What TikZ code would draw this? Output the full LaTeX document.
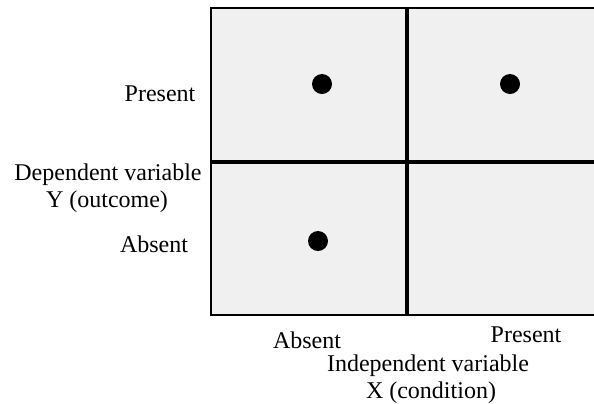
\documentclass[tikz,border=0pt]{standalone}
\usepackage{fontspec}
\setmainfont{Liberation Serif}
\tikzset{
	cell/.style = {fill = black!6},
	dot/.style = {circle, fill = black, inner sep = 0pt, minimum size = 10pt},
	lbl/.style = {anchor = base, inner sep = 0pt, font = \fontsize{12}{13.5}\selectfont}
}

\begin{document}
\begin{tikzpicture}[x = 0.5pt, y = -0.5pt]
		\useasboundingbox (0, 0) rectangle (594, 403);
		\clip (0, 0) rectangle (594, 403);
		%%%%%%%%%%%%%
		\fill [cell] (211, 8) rectangle (620, 315);
		\draw [line width = 1pt] (211, 8) rectangle (620, 315);
		\coordinate (top) at (407, 8);
		\coordinate (bot) at (407, 315);
		\coordinate (lft) at (211, 162);
		\coordinate (rgt) at (620, 162);
		\draw [line width = 2pt] (top) to (bot);
		\draw [line width = 2pt] (lft) to (rgt);
		%%%%%%%%%%%%%
		\node [dot] (d1) at (322, 84) {};
		\node [dot] (d2) at (510, 84) {};
		\node [dot] (d3) at (318, 241) {};
		%%%%%%%%%%%%%
		\node [lbl] (ypres) at (160, 101) {Present};
		\node [lbl] (ydep) at (108, 180) {Dependent variable};
		\node [lbl] (yout) at (107, 207) {Y (outcome)};
		\node [lbl] (yabs) at (154, 252) {Absent};
		\node [lbl] (xabs) at (307, 348) {Absent};
		\node [lbl] (xpres) at (526, 342) {Present};
		\node [lbl] (xind) at (428, 371) {Independent variable};
		\node [lbl] (xcond) at (431, 398) {X (condition)};
\end{tikzpicture}
\end{document}
